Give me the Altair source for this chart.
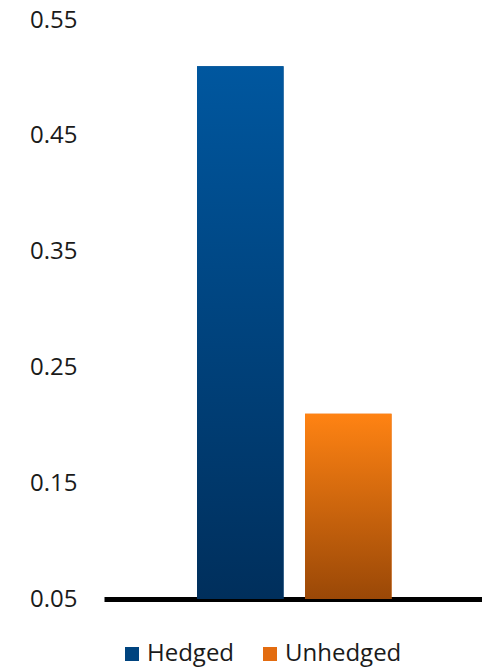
import altair as alt
import pandas as pd

series = ["Hedged", "Unhedged"]
values = [0.51, 0.21]
y_ticks = [0.05, 0.15, 0.25, 0.35, 0.45, 0.55]
legend_colors = ["#00447f", "#e36c10"]
grad_top = ["#00579f", "#ff8313"]
grad_bottom = ["#002f5c", "#9a4807"]

df = pd.DataFrame({"series": series, "value": values})

FONT = "Open Sans"

x_enc = alt.X(
    "series:N",
    scale=alt.Scale(domain=series, paddingInner=0.199, paddingOuter=0.8495, align=0.507),
    axis=alt.Axis(labels=False, ticks=False, title=None, domainColor="black",
                  domainWidth=5, grid=False),
)
y_enc = alt.Y(
    "value:Q",
    scale=alt.Scale(domain=[0.05, 0.55], zero=False, nice=False),
    axis=alt.Axis(values=y_ticks, format=".2f", domain=False, ticks=False, grid=False,
                  title=None, labelFont=FONT, labelFontSize=24, labelColor="#1a1a1a",
                  labelPadding=27, labelOverlap=False, labelBound=False),
)

base = alt.Chart(df).encode(x=x_enc, y=y_enc, y2=alt.datum(0.05))

legend_layer = base.mark_bar().encode(
    color=alt.Color(
        "series:N",
        scale=alt.Scale(domain=series, range=legend_colors),
        legend=alt.Legend(
            title=None, orient="none", legendX=16, legendY=622, direction="horizontal",
            symbolType="square", symbolSize=196, symbolStrokeWidth=0,
            labelFont=FONT, labelFontSize=24, labelColor="#1a1a1a",
            labelOffset=3, columnPadding=23,
        ),
    )
)

layers = [legend_layer]
for i, s in enumerate(series):
    grad = alt.LinearGradient(
        gradient="linear",
        stops=[alt.GradientStop(color=grad_top[i], offset=0),
               alt.GradientStop(color=grad_bottom[i], offset=1)],
        x1=0, x2=0, y1=0, y2=1,
    )
    layers.append(base.mark_bar(color=grad).transform_filter(alt.datum.series == s))

chart = alt.layer(*layers).properties(
    width=378,
    height=579,
    autosize=alt.AutoSizeParams(type="none"),
    padding={"left": 96, "top": 12, "right": 0, "bottom": 70},
).configure_view(stroke=None)

chart.save("out.html", embed_options={"renderer": "svg", "actions": False})
